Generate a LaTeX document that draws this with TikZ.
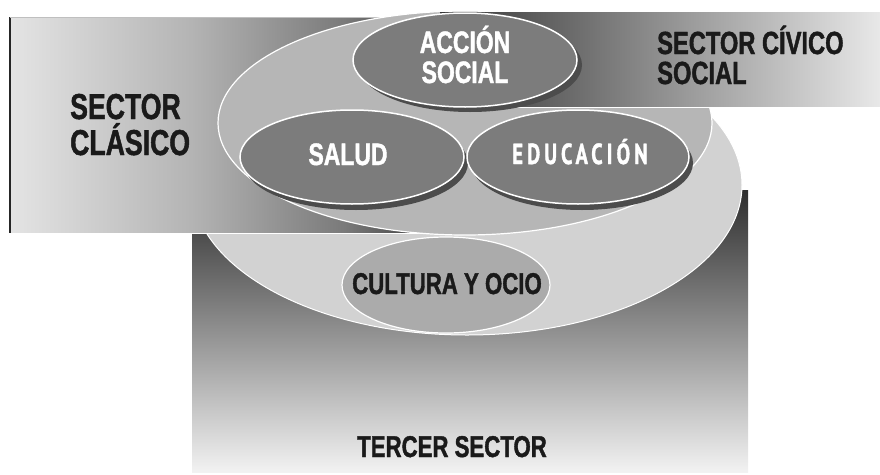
\documentclass[tikz,border=0pt]{standalone}
\usepackage{fontspec}
\newfontfamily\cond[FakeStretch=0.74,FakeBold=1.3]{Liberation Sans}
\newfontfamily\edu[FakeStretch=0.7,LetterSpace=14,FakeBold=1.2]{PT Sans}
\definecolor{lA}{HTML}{E4E4E4}
\definecolor{lB}{HTML}{B4B4B4}
\definecolor{lC}{HTML}{7A7A7A}
\definecolor{lD}{HTML}{3C3C3C}
\definecolor{bandL}{HTML}{363636}
\definecolor{bandR}{HTML}{E8E8E8}
\definecolor{botT}{HTML}{2E2E2E}
\definecolor{botM}{HTML}{979797}
\definecolor{botB}{HTML}{F2F2F2}
\definecolor{eOne}{HTML}{B6B6B6}
\definecolor{eTwo}{HTML}{D2D2D2}
\definecolor{inner}{HTML}{7C7C7C}
\definecolor{shad}{HTML}{4C4C4C}
\definecolor{cult}{HTML}{ABABAB}
\definecolor{txt}{HTML}{1A1A1A}
\pgfdeclarehorizontalshading{leftgrad}{100bp}{color(0bp)=(lA); color(25bp)=(lA); color(45bp)=(lB); color(62bp)=(lC); color(72bp)=(lD); color(75bp)=(lD); color(100bp)=(lD)}
\tikzset{
  darklbl/.style={text=txt, inner sep=0pt, font=\cond\bfseries\fontsize{30}{32}\selectfont},
  whitelbl/.style={text=white, inner sep=0pt, font=\cond\bfseries\fontsize{31}{32}\selectfont},
  innerell/.style={fill=inner, draw=white, line width=1.5pt},
  shadell/.style={fill=shad}
}
\begin{document}
\begin{tikzpicture}[x=1pt,y=-1pt]
\useasboundingbox (0,0) rectangle (880,474);
% tercer sector background
\path[top color=botT, middle color=botM, bottom color=botB] (192,190) rectangle (748,472);
% big ellipse
\path[fill=eTwo, draw=white, line width=1pt] (467,185) ellipse [x radius=275pt, y radius=150pt];
% sector clasico
\path[shading=leftgrad] (10,17) rectangle (462,233);
\draw[black!85, line width=1.2pt] (10,17) -- (10,233);
\draw[black!25, line width=0.8pt] (10,17) -- (462,17);
\draw[white, line width=1.5pt] (10,233.5) -- (462,233.5);
% upper ellipse
\path[fill=eOne, draw=white, line width=1.2pt] (465,123) ellipse [x radius=247pt, y radius=112pt];
% sector civico band
\path[left color=bandL, right color=bandR] (440,12) rectangle (880,107);
\draw[white, line width=1.2pt] (440,107.5) -- (880,107.5);
% inner ellipses
\path[shadell] (470,65) ellipse [x radius=112pt, y radius=47pt];
\path[innerell] (465,60) ellipse [x radius=112pt, y radius=47pt];
\path[shadell] (356,163) ellipse [x radius=112pt, y radius=47pt];
\path[innerell] (352,157) ellipse [x radius=112pt, y radius=47pt];
\path[shadell] (582,163) ellipse [x radius=111pt, y radius=47pt];
\path[innerell] (578,157) ellipse [x radius=111pt, y radius=47pt];
\path[fill=cult, draw=white, line width=1.2pt] (446,285) ellipse [x radius=104pt, y radius=48pt];
% labels
\node[darklbl, font=\cond\bfseries\fontsize{36}{38}\selectfont, anchor=base west] (clasA) at (70,119) {SECTOR};
\node[darklbl, font=\cond\bfseries\fontsize{36}{38}\selectfont, anchor=base west] (clasB) at (70,155) {CLÁSICO};
\node[darklbl, font=\cond\bfseries\fontsize{32}{34}\selectfont, anchor=base west] (civA) at (657,54) {SECTOR CÍVICO};
\node[darklbl, font=\cond\bfseries\fontsize{32}{34}\selectfont, anchor=base west] (civB) at (657,84) {SOCIAL};
\node[whitelbl, anchor=base] (accA) at (465,53) {ACCIÓN};
\node[whitelbl, anchor=base] (accB) at (465,83) {SOCIAL};
\node[whitelbl, anchor=base] (salud) at (348,165) {SALUD};
\node[text=white, inner sep=0pt, font=\edu\bfseries\fontsize{29}{30}\selectfont, anchor=base] (educ) at (580,164) {EDUCACIÓN};
\node[darklbl, anchor=base] (cult) at (447,294) {CULTURA Y OCIO};
\node[darklbl, anchor=base] (terc) at (452,457) {TERCER SECTOR};
\end{tikzpicture}
\end{document}
